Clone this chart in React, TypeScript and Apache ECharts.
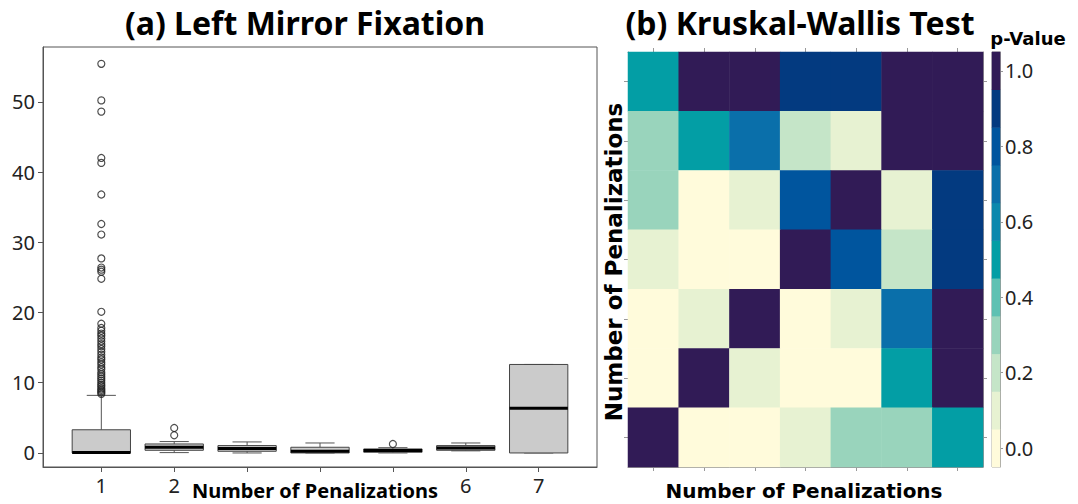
import React, { useEffect, useRef } from "react";
import * as echarts from "echarts";

// ----- (a) Left Mirror Fixation : box plots -----
const boxCategories = [1, 2, 3, 4, 5, 6, 7];
// [lower whisker, Q1, median, Q3, upper whisker]
const boxStats = [
  [0, 0, 0.05, 3.3, 8.2],
  [0.05, 0.38, 0.8, 1.28, 1.62],
  [0, 0.24, 0.62, 1.05, 1.57],
  [0, 0.0, 0.24, 0.81, 1.42],
  [0, 0.1, 0.34, 0.57, 0.75],
  [0.3, 0.38, 0.72, 1.05, 1.42],
  [0, 0, 6.37, 12.6, 12.6],
];
const outliersGroup1 = [
  8.4, 8.6, 8.8, 9.0, 9.2, 9.5, 9.7, 10.0, 10.3, 10.6, 10.9, 11.2, 11.5, 11.9,
  12.2, 12.6, 12.9, 13.3, 13.6, 14.0, 14.4, 14.8, 15.2, 15.5, 15.9, 16.3, 16.7,
  17.0, 17.4, 17.8, 18.4, 20.1, 24.8, 25.8, 26.1, 26.4, 27.7, 31.1, 32.6, 36.8,
  41.3, 42.0, 48.6, 50.2, 55.4,
];
const outliersGroup2 = [2.52, 3.56];
const outliersGroup5 = [1.28];
const yTickValues = [0, 10, 20, 30, 40, 50];
const xTickValues = [1, 2, 3, 4, 5, 6, 7];
const xLabelValues = [1, 2, 6, 7];

// ----- (b) Kruskal-Wallis Test : heatmap -----
const penaltyLevels = ["1", "2", "3", "4", "5", "6", "7"];
// rows listed from top (7 penalizations) to bottom (1 penalization)
const pValueRows = [
  [0.5, 1.0, 1.0, 0.9, 0.9, 1.0, 1.0],
  [0.3, 0.5, 0.7, 0.2, 0.1, 1.0, 1.0],
  [0.3, 0.0, 0.1, 0.8, 1.0, 0.1, 0.9],
  [0.1, 0.0, 0.0, 1.0, 0.8, 0.2, 0.9],
  [0.0, 0.1, 1.0, 0.0, 0.1, 0.7, 1.0],
  [0.0, 1.0, 0.1, 0.0, 0.0, 0.5, 1.0],
  [1.0, 0.0, 0.0, 0.1, 0.3, 0.3, 0.5],
];
const colorbarLevels = [0, 0.1, 0.2, 0.3, 0.4, 0.5, 0.6, 0.7, 0.8, 0.9, 1.0];
const colorbarLabels = ["0.0", "0.1", "0.2", "0.3", "0.4", "0.5", "0.6", "0.7", "0.8", "0.9", "1.0"];
const pValueColors = [
  "#fffbdb", "#e7f2d2", "#c5e5c8", "#99d4bc", "#5ec1b3", "#039ea5",
  "#0b88ad", "#0a6faa", "#00559e", "#033a80", "#311b56",
];

export default function App() {
  const ref = useRef<HTMLDivElement>(null);

  useEffect(() => {
    if (!ref.current) return;
    const chart = echarts.init(ref.current, null, { renderer: "svg" });

    const boxData = boxCategories.map((c, i) => [c, ...boxStats[i]]);
    const outlierData = [
      ...outliersGroup1.map((v) => [1, v]),
      ...outliersGroup2.map((v) => [2, v]),
      ...outliersGroup5.map((v) => [5, v]),
    ];
    const heatData: number[][] = [];
    pValueRows.forEach((row, r) => {
      row.forEach((v, c) => heatData.push([c, pValueRows.length - 1 - r, v]));
    });
    const colorbarData = colorbarLevels.map((v, i) => [0, i, v]);

    const labelFont = { fontFamily: "Noto Sans", fontSize: 20, color: "#222" };
    const hmAxisLine = { show: true, lineStyle: { color: "#999", width: 1 } };
    const hmTick = { show: true, length: 4, alignWithLabel: true, lineStyle: { color: "#999" } };

    const option: any = {
      animation: false,
      backgroundColor: "#fff",
      grid: [
        { left: 43, right: 481, top: 47, bottom: 37, show: true, borderColor: "#555", borderWidth: 1, outerBoundsMode: "none", containLabel: false },
        { left: 628, right: 95, top: 52, bottom: 37, outerBoundsMode: "none", containLabel: false },
        { left: 992, width: 8, top: 52, bottom: 37, show: true, borderColor: "#999", borderWidth: 1, outerBoundsMode: "none", containLabel: false },
      ],
      xAxis: [
        {
          gridIndex: 0, type: "value", min: 0.2, max: 7.8,
          splitLine: { show: false },
          axisLine: { show: true, onZero: false, lineStyle: { color: "#555" } },
          axisTick: { show: true, length: 5, customValues: xTickValues, lineStyle: { color: "#555" } },
          axisLabel: { ...labelFont, margin: 8, customValues: xLabelValues },
        },
        { gridIndex: 1, type: "category", data: penaltyLevels, position: "bottom", axisLine: hmAxisLine, axisTick: hmTick, axisLabel: { show: false }, splitLine: { show: false } },
        { gridIndex: 1, type: "category", data: penaltyLevels, position: "top", axisLine: hmAxisLine, axisTick: hmTick, axisLabel: { show: false }, splitLine: { show: false } },
        { gridIndex: 2, type: "category", data: ["p"], show: false },
      ],
      yAxis: [
        {
          gridIndex: 0, type: "value", min: -2, max: 57.8,
          splitLine: { show: false },
          axisLine: { show: true, onZero: false, lineStyle: { color: "#555" } },
          axisTick: { show: true, length: 5, customValues: yTickValues, lineStyle: { color: "#555" } },
          axisLabel: { ...labelFont, margin: 8, customValues: yTickValues },
        },
        { gridIndex: 1, type: "category", data: penaltyLevels, position: "left", axisLine: hmAxisLine, axisTick: hmTick, axisLabel: { show: false }, splitLine: { show: false } },
        { gridIndex: 1, type: "category", data: penaltyLevels, position: "right", axisLine: hmAxisLine, axisTick: hmTick, axisLabel: { show: false }, splitLine: { show: false } },
        {
          gridIndex: 2, type: "category", data: colorbarLabels, position: "right",
          axisLine: { show: true, lineStyle: { color: "#999" } },
          axisTick: { show: true, length: 3, interval: 1, alignWithLabel: true, lineStyle: { color: "#999" } },
          axisLabel: { ...labelFont, interval: 1, margin: 5 },
          splitLine: { show: false },
        },
      ],
      visualMap: {
        type: "continuous", show: false, min: 0, max: 1,
        seriesIndex: [2, 3], dimension: 2,
        inRange: { color: pValueColors },
      },
      series: [
        {
          type: "custom", xAxisIndex: 0, yAxisIndex: 0, data: boxData,
          encode: { x: 0, y: [1, 2, 3, 4, 5] },
          renderItem: (params: any, api: any) => {
            const x = api.value(0);
            const lo = api.value(1), q1 = api.value(2), med = api.value(3), q3 = api.value(4), hi = api.value(5);
            const bw = api.size([0.8, 0])[0];
            const cw = bw / 2;
            const cx = api.coord([x, lo])[0];
            const yLo = api.coord([x, lo])[1];
            const yQ1 = api.coord([x, q1])[1];
            const yMed = api.coord([x, med])[1];
            const yQ3 = api.coord([x, q3])[1];
            const yHi = api.coord([x, hi])[1];
            const wStyle = { stroke: "#555", lineWidth: 1, fill: null };
            return {
              type: "group",
              children: [
                { type: "line", shape: { x1: cx, y1: yQ3, x2: cx, y2: yHi }, style: wStyle },
                { type: "line", shape: { x1: cx - cw / 2, y1: yHi, x2: cx + cw / 2, y2: yHi }, style: wStyle },
                { type: "line", shape: { x1: cx, y1: yQ1, x2: cx, y2: yLo }, style: wStyle },
                { type: "line", shape: { x1: cx - cw / 2, y1: yLo, x2: cx + cw / 2, y2: yLo }, style: wStyle },
                { type: "rect", shape: { x: cx - bw / 2, y: yQ3, width: bw, height: yQ1 - yQ3 }, style: { fill: "#cbcbcb", stroke: "#444", lineWidth: 1 } },
                { type: "line", shape: { x1: cx - bw / 2, y1: yMed, x2: cx + bw / 2, y2: yMed }, style: { stroke: "#000", lineWidth: 3 } },
              ],
            };
          },
        },
        {
          type: "scatter", xAxisIndex: 0, yAxisIndex: 0, data: outlierData,
          symbol: "circle", symbolSize: 7,
          itemStyle: { color: "rgba(255,255,255,0)", borderColor: "#222", borderWidth: 1.2 },
        },
        {
          type: "heatmap", xAxisIndex: 1, yAxisIndex: 1, data: heatData,
          itemStyle: { borderWidth: 0 },
        },
        {
          type: "heatmap", xAxisIndex: 3, yAxisIndex: 3, data: colorbarData,
          itemStyle: { borderWidth: 0 },
        },
      ],
      graphic: [
        { type: "text", x: 305, y: 22, style: { text: "(a) Left Mirror Fixation", font: "bold 32px 'Noto Sans'", fill: "#000", align: "center", verticalAlign: "middle" } },
        { type: "text", x: 800, y: 22, style: { text: "(b) Kruskal-Wallis Test", font: "bold 32px 'Noto Sans'", fill: "#000", align: "center", verticalAlign: "middle" } },
        { type: "text", x: 1028, y: 38, style: { text: "p-Value", font: "bold 18px 'DejaVu Sans'", fill: "#000", align: "center", verticalAlign: "middle" } },
        { type: "text", x: 315, y: 490, style: { text: "Number of Penalizations", font: "bold 20px 'Noto Sans'", fill: "#000", align: "center", verticalAlign: "middle" } },
        { type: "text", x: 804, y: 491, style: { text: "Number of Penalizations", font: "bold 20px 'DejaVu Sans'", fill: "#000", align: "center", verticalAlign: "middle" } },
        { type: "text", x: 614, y: 262, rotation: Math.PI / 2, style: { text: "Number of Penalizations", font: "bold 23px 'DejaVu Sans'", fill: "#000", align: "center", verticalAlign: "middle" } },
      ],
    };

    chart.setOption(option);
    return () => chart.dispose();
  }, []);

  return (
    <div
      ref={ref}
      style={{ position: "fixed", left: 0, top: 0, width: 1078, height: 504, background: "#fff" }}
    />
  );
}
